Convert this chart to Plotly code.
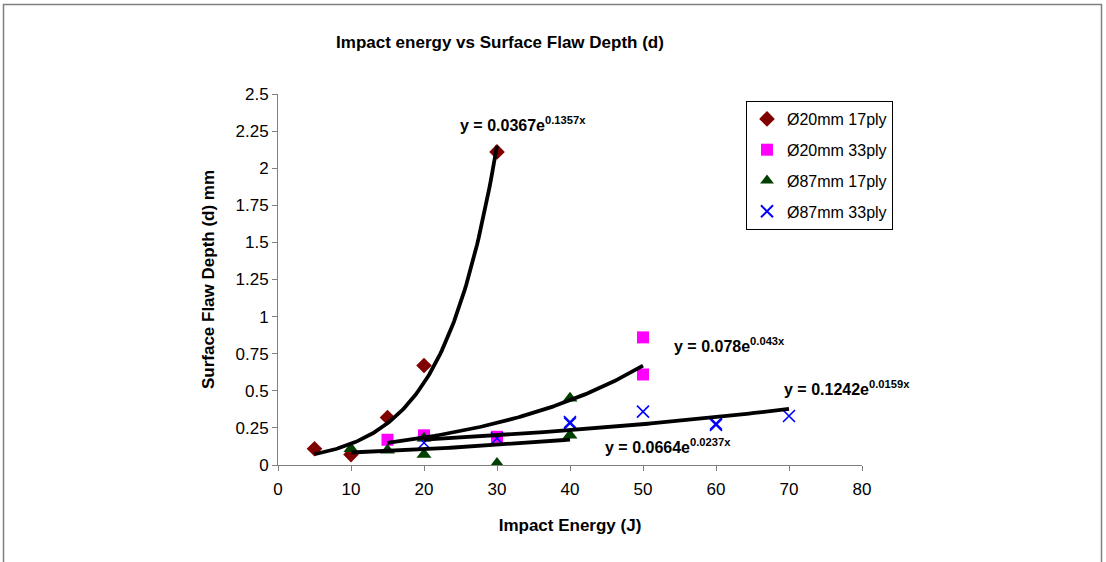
import numpy as np
import plotly.graph_objects as go

# ---- data ----
s1_name = "Ø20mm 17ply"
s1_x = [5, 10, 15, 20, 30]
s1_y = [0.11, 0.07, 0.32, 0.67, 2.11]

s2_name = "Ø20mm 33ply"
s2_x = [15, 20, 30, 50, 50]
s2_y = [0.17, 0.20, 0.19, 0.86, 0.61]

s3_name = "Ø87mm 17ply"
s3_x = [10, 15, 20, 20, 30, 40, 40]
s3_y = [0.11, 0.10, 0.18, 0.07, 0.01, 0.45, 0.20]

s4_name = "Ø87mm 33ply"
s4_x = [20, 30, 40, 40, 50, 60, 60, 70]
s4_y = [0.15, 0.18, 0.29, 0.28, 0.36, 0.28, 0.27, 0.33]

# exponential trendline coefficients (y = a*e^(b x)) as labelled in the chart
trend_a = [0.0367, 0.078, 0.0664, 0.1242]
trend_b = [0.1357, 0.043, 0.0237, 0.0159]
trend_xmin = [5, 15, 10, 20]
trend_xmax = [30, 50, 40, 70]
trend_labels = ["y = 0.0367e<sup>0.1357x</sup>", "y = 0.078e<sup>0.043x</sup>",
                "y = 0.0664e<sup>0.0237x</sup>", "y = 0.1242e<sup>0.0159x</sup>"]
label_x = [24.7, 54.0, 44.5, 69.0]
label_y = [2.30, 0.81, 0.13, 0.52]

y_ticks = [0, 0.25, 0.5, 0.75, 1, 1.25, 1.5, 1.75, 2, 2.25, 2.5]
y_ticktext = ["0", "0.25", "0.5", "0.75", "1", "1.25", "1.5", "1.75", "2", "2.25", "2.5"]

FONT = "Liberation Sans, Arial, sans-serif"

fig = go.Figure()
fig.add_trace(go.Scatter(x=s1_x, y=s1_y, mode="markers", name=s1_name, legendgroup="g1",
                         marker=dict(symbol="diamond", size=12, color="#800000")))
fig.add_trace(go.Scatter(x=s2_x, y=s2_y, mode="markers", name=s2_name, legendgroup="g2",
                         marker=dict(symbol="square", size=12, color="#FF00FF")))
fig.add_trace(go.Scatter(x=s3_x, y=s3_y, mode="markers", name=s3_name, legendgroup="g3",
                         marker=dict(symbol="triangle-up", size=13, color="#004000")))
fig.add_trace(go.Scatter(x=s4_x, y=s4_y, mode="markers", name=s4_name, legendgroup="g4",
                         marker=dict(symbol="x-thin", size=12, color="#0000FF",
                                     line=dict(width=1.6, color="#0000FF"))))

for a, b, x0, x1 in zip(trend_a, trend_b, trend_xmin, trend_xmax):
    xs = np.linspace(x0, x1, 120)
    fig.add_trace(go.Scatter(x=xs, y=a * np.exp(b * xs), mode="lines",
                             line=dict(color="black", width=3.8),
                             showlegend=False, hoverinfo="skip"))

for t, lx, ly in zip(trend_labels, label_x, label_y):
    fig.add_annotation(x=lx, y=ly, text="<b>" + t + "</b>", showarrow=False,
                       xanchor="left", yanchor="middle",
                       font=dict(family=FONT, size=16, color="black"))

W, H = 1106, 562
L, R, T, B = 278, 244, 94, 97
pw, ph = W - L - R, H - T - B

def px(xp):
    return (xp - L) / pw

def py(yp):
    return (H - B - yp) / ph

# outer chart border
fig.add_shape(type="rect", xref="paper", yref="paper",
              x0=px(3.5), x1=px(1101.5), y0=py(600), y1=py(4.5),
              line=dict(color="#808080", width=1.5), layer="below")

fig.update_layout(
    width=W, height=H,
    margin=dict(l=L, r=R, t=T, b=B),
    paper_bgcolor="white", plot_bgcolor="white",
    font=dict(family=FONT, size=16, color="black"),
    title=dict(text="<b>Impact energy vs Surface Flaw Depth (d)</b>",
               xref="container", x=500 / W, xanchor="center",
               yref="container", y=1 - 42 / H, yanchor="middle",
               font=dict(family=FONT, size=17, color="black")),
    legend=dict(x=px(746), y=py(101), xanchor="left", yanchor="top",
                bordercolor="#000000", borderwidth=1, bgcolor="white",
                font=dict(family=FONT, size=16, color="black"),
                itemsizing="constant", tracegroupgap=7),
    showlegend=True,
)
fig.update_xaxes(range=[0, 80], dtick=10, tick0=0, showgrid=False, zeroline=False,
                 showline=True, linecolor="#808080", linewidth=1,
                 ticks="outside", ticklen=5, tickcolor="#808080",
                 ticklabelstandoff=4,
                 tickfont=dict(family=FONT, size=17, color="black"),
                 title=dict(text="<b>Impact Energy (J)</b>", standoff=20,
                            font=dict(family=FONT, size=17, color="black")))
fig.update_yaxes(range=[0, 2.5], tickvals=y_ticks, ticktext=y_ticktext,
                 showgrid=False, zeroline=False,
                 showline=True, linecolor="#808080", linewidth=1,
                 ticks="outside", ticklen=5, tickcolor="#808080",
                 tickfont=dict(family=FONT, size=17, color="black"),
                 title=dict(text="<b>Surface Flaw Depth (d) mm</b>", standoff=16,
                            font=dict(family=FONT, size=17, color="black")))

fig.write_html("out.html", config={"displayModeBar": False},
               post_script="document.body.style.margin='0';document.body.style.overflow='hidden';")
